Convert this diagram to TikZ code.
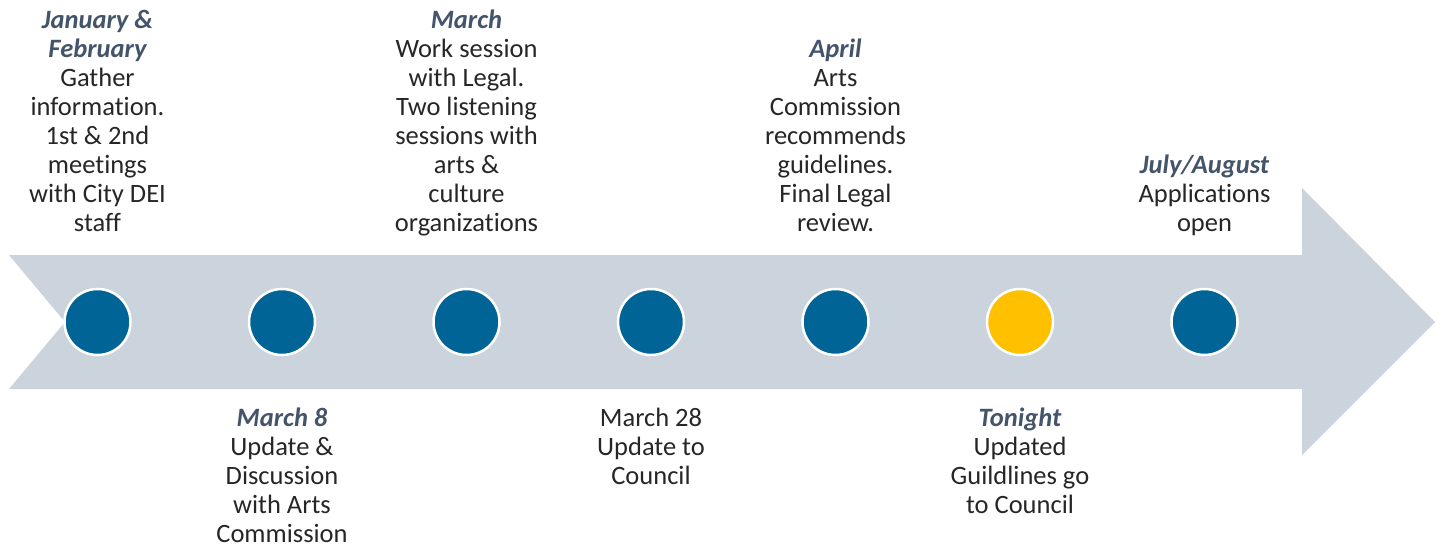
\documentclass[tikz,border=0pt]{standalone}
\usepackage{fontspec}
\setmainfont{Carlito}[RawFeature={-liga;-clig;-calt;-dlig}]
\usepackage{xcolor}
\usepackage{tikz}
\definecolor{arrowgray}{HTML}{CBD3DC}
\definecolor{dotblue}{HTML}{006496}
\definecolor{dotyellow}{HTML}{FFC000}
\definecolor{datecolor}{HTML}{44546A}
\definecolor{bodytext}{HTML}{262626}
\newcommand{\when}[1]{{\color{datecolor}\bfseries\itshape #1}}
\tikzset{
    dot/.style={circle, minimum size=66pt, inner sep=0pt, fill=dotblue, draw=white, line width=2.5pt},
    above label/.style={anchor=south, align=center, inner sep=0pt, text=bodytext, font=\fontsize{26.5}{29}\selectfont},
    below label/.style={anchor=north, align=center, inner sep=0pt, text=bodytext, font=\fontsize{26.5}{29}\selectfont}
}

\begin{document}
\begin{tikzpicture}[x=1pt, y=-1pt]
        \useasboundingbox (0,0) rectangle (1442,548);

        % the big arrow
        \fill[arrowgray] (9,255) -- (1302,255) -- (1302,188) -- (1435,322)
            -- (1302,455) -- (1302,389) -- (9,389) -- (65,322) -- cycle;

        % milestones
        \draw (97.5,322) node[dot](jan){};
        \draw (282,322) node[dot](mareight){};
        \draw (466.5,322) node[dot](mar){};
        \draw (651,322) node[dot](martwentyeight){};
        \draw (835.5,322) node[dot](apr){};
        \draw (1020,322) node[dot, fill=dotyellow](tonight){};
        \draw (1204.5,322) node[dot](jul){};

        % texts above the arrow
        \draw (97.5,240) node[above label](janlabel){\when{January \&}\\\when{February}\\Gather\\information.\\1st \& 2nd\\meetings\\with City DEI\\staff\strut};
        \draw (466.5,240) node[above label](marlabel){\when{March}\\Work session\\with Legal.\\Two listening\\sessions with\\arts \&\\culture\\organizations\strut};
        \draw (835.5,240) node[above label](aprlabel){\when{April}\\Arts\\Commission\\recommends\\guidelines.\\Final Legal\\review.\strut};
        \draw (1204.5,240) node[above label](jullabel){\when{July/August}\\Applications\\open\strut};

        % texts below the arrow
        \draw (282,406) node[below label](mareightlabel){\strut\when{March 8}\\Update \&\\Discussion\\with Arts\\Commission};
        \draw (651,406) node[below label](martwentyeightlabel){\strut March 28\\Update to\\Council};
        \draw (1020,406) node[below label](tonightlabel){\strut\when{Tonight}\\Updated\\Guildlines go\\to Council};
    \end{tikzpicture}
\end{document}
